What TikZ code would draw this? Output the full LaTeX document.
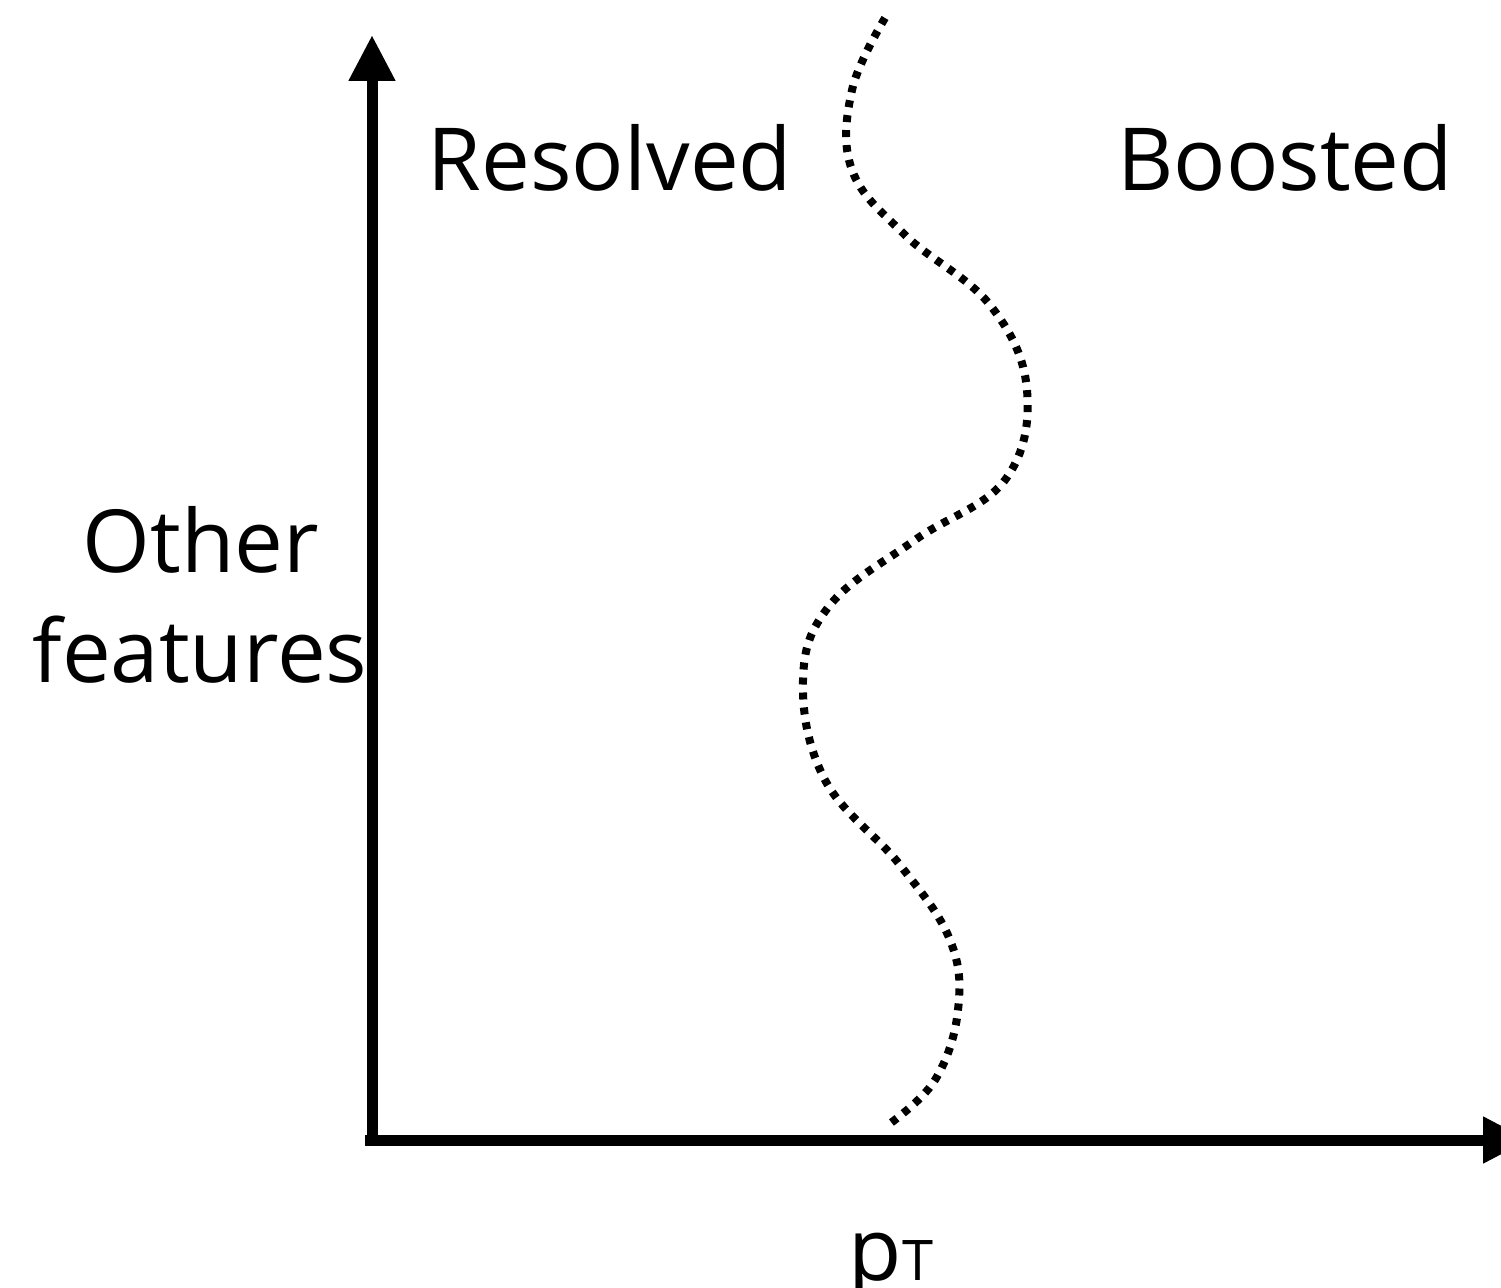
\documentclass[tikz,border=0pt]{standalone}
\usepackage{fontspec}
\setmainfont{Open Sans}
\usetikzlibrary{arrows.meta}
\tikzset{
  axis/.style={line width=11pt, line cap=butt, -{Triangle[length=46pt,width=44pt]}},
  boundary/.style={line width=8pt, line cap=butt, dash pattern=on 7pt off 8pt},
  lbl/.style={anchor=base, inner sep=0pt, font=\fontsize{87}{100}\selectfont}
}
\begin{document}
\begin{tikzpicture}[x=1pt,y=-1pt]
\useasboundingbox (0,0) rectangle (1501,1287);
\coordinate (vb) at (372,1146);
\coordinate (vt) at (372,35);
\coordinate (hl) at (365,1140);
\coordinate (hr) at (1529,1140);
\draw[axis] (vb) -- (vt);
\draw[axis] (hl) -- (hr);
\draw[boundary] plot[smooth, tension=0.65] coordinates {(885,18) (852,90) (852,170) (905,235) (990,305) (1027,390) (1005,480) (915,540) (830,605) (803,680) (825,780) (900,865) (950,940) (958,1010) (935,1080) (888,1125)};
\node[lbl] (res) at (610,190) {Resolved};
\node[lbl] (boo) at (1285,190) {Boosted};
\node[lbl] (oth) at (201,572) {Other};
\node[lbl] (fea) at (200,682) {features};
\node[lbl] (pt) at (891,1280) {p{\fontsize{56}{60}\selectfont T}};
\end{tikzpicture}
\end{document}
